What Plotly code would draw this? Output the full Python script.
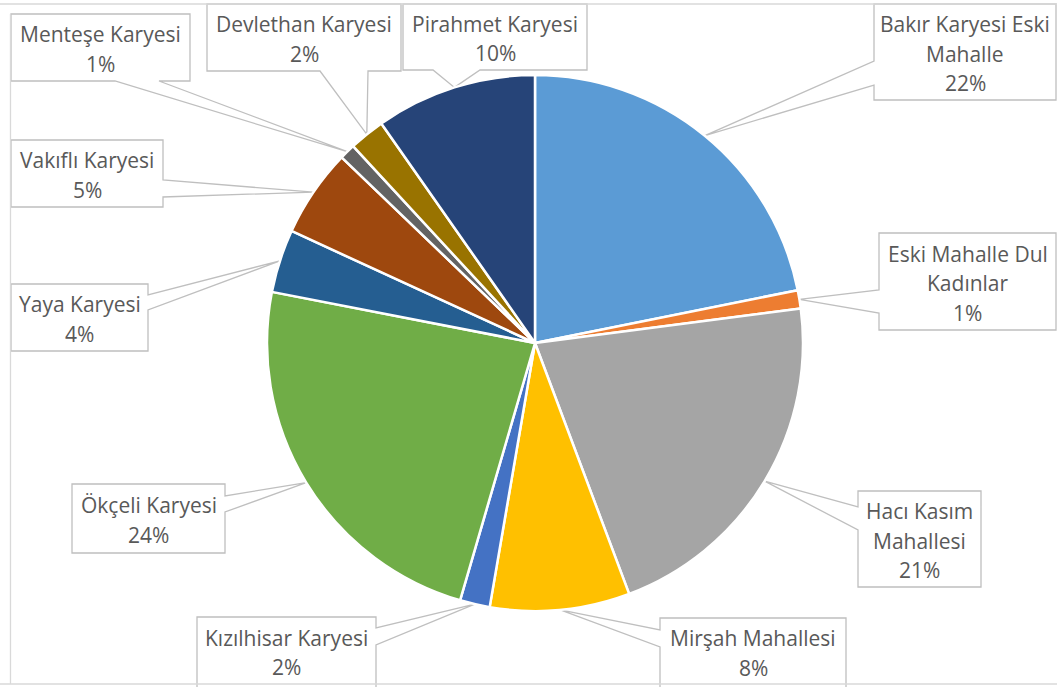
import numpy as np
import plotly.graph_objects as go

W, H = 1057, 687

labels = [
    "Bakır Karyesi Eski Mahalle",
    "Eski Mahalle Dul Kadınlar",
    "Hacı Kasım Mahallesi",
    "Mirşah Mahallesi",
    "Kızılhisar Karyesi",
    "Ökçeli Karyesi",
    "Yaya Karyesi",
    "Vakıflı Karyesi",
    "Menteşe Karyesi",
    "Devlethan Karyesi",
    "Pirahmet Karyesi",
]
shares = [21.8, 1.1, 21.3, 8.4, 1.8, 23.5, 3.8, 5.3, 0.95, 2.15, 9.7]
label_lines = [
    ["Bakır Karyesi Eski", "Mahalle"],
    ["Eski Mahalle Dul", "Kadınlar"],
    ["Hacı Kasım", "Mahallesi"],
    ["Mirşah Mahallesi"],
    ["Kızılhisar Karyesi"],
    ["Ökçeli Karyesi"],
    ["Yaya Karyesi"],
    ["Vakıflı Karyesi"],
    ["Menteşe Karyesi"],
    ["Devlethan Karyesi"],
    ["Pirahmet Karyesi"],
]
colors = [
    "#5B9BD5", "#ED7D31", "#A5A5A5", "#FFC000", "#4472C4", "#70AD47",
    "#255E91", "#9E480E", "#636363", "#997300", "#264478",
]

# callout boxes in pixels: (x0, y0, x1, y1), side the pointer leaves from, pointer base
callouts = [
    ((874, 4, 1056, 100), "left", (61, 85)),
    ((879, 233, 1056, 330), "left", (290, 313)),
    ((858, 491, 981, 587), "left", (507, 530)),
    ((660, 618, 846, 690), "left", (630, 647)),
    ((197, 617, 376, 690), "right", (628, 645)),
    ((72, 484, 225, 553), "right", (496, 512)),
    ((11, 284, 148, 351), "right", (295, 310)),
    ((11, 140, 163, 207), "right", (180, 197)),
    ((11, 14, 190, 81), "bottom", (115, 159)),
    ((207, 4, 401, 71), "bottom", (320, 368)),
    ((403, 4, 587, 70), "bottom", (433, 480)),
]

cx, cy, r = 535, 343, 268
line_gap = 29.5
grey = "#BFBFBF"
text_color = "#595959"


def px(x):
    return x / W


def py(y):
    return 1 - y / H


total = sum(shares)
fractions = np.array(shares) / total
mids = (np.cumsum(fractions) - fractions / 2) * 2 * np.pi
tips = [(cx + r * np.sin(a), cy - r * np.cos(a)) for a in mids]

fig = go.Figure(
    go.Pie(
        labels=labels,
        values=shares,
        sort=False,
        direction="clockwise",
        rotation=0,
        marker={"colors": colors, "line": {"color": "#FFFFFF", "width": 2.5}},
        textinfo="none",
        hoverinfo="label+percent",
        showlegend=False,
        domain={"x": [px(cx - r), px(cx + r)], "y": [py(cy + r), py(cy - r)]},
    )
)

shapes = []
annotations = []
for i, ((x0, y0, x1, y1), side, (a, b)) in enumerate(callouts):
    tx, ty = tips[i]
    if side == "left":
        pts = [(x0, y0), (x1, y0), (x1, y1), (x0, y1), (x0, b), (tx, ty), (x0, a)]
    elif side == "right":
        pts = [(x0, y0), (x1, y0), (x1, a), (tx, ty), (x1, b), (x1, y1), (x0, y1)]
    else:
        pts = [(x0, y0), (x1, y0), (x1, y1), (b, y1), (tx, ty), (a, y1), (x0, y1)]
    path = "M " + " L ".join(f"{px(x):.5f},{py(y):.5f}" for x, y in pts) + " Z"
    shapes.append(
        dict(
            type="path", xref="paper", yref="paper", path=path,
            fillcolor="#FFFFFF", line={"color": grey, "width": 1.3}, layer="below",
        )
    )

    text = label_lines[i] + [f"{round(fractions[i] * 100)}%"]
    mid_y = (y0 + min(y1, 685)) / 2 + 1.5
    start = mid_y - line_gap * (len(text) - 1) / 2
    for k, t in enumerate(text):
        annotations.append(
            dict(
                text=t, x=px((x0 + x1) / 2), y=py(start + k * line_gap),
                xref="paper", yref="paper", showarrow=False,
                xanchor="center", yanchor="middle",
                font={"family": "Open Sans", "size": 21, "color": text_color},
            )
        )

# chart frame
for x_a, y_a, x_b, y_b in [(0, 4, W, 4), (10.5, 14, 10.5, 684), (0, 684, W, 684)]:
    shapes.append(
        dict(
            type="line", xref="paper", yref="paper",
            x0=px(x_a), y0=py(y_a), x1=px(x_b), y1=py(y_b),
            line={"color": "#D9D9D9", "width": 1.3}, layer="below",
        )
    )

fig.update_layout(
    width=W,
    height=H,
    margin={"l": 0, "r": 0, "t": 0, "b": 0},
    paper_bgcolor="#FFFFFF",
    plot_bgcolor="#FFFFFF",
    shapes=shapes,
    annotations=annotations,
)

fig.write_html(
    "out.html",
    config={"displayModeBar": False},
    post_script="document.body.style.margin = '0px';",
)
